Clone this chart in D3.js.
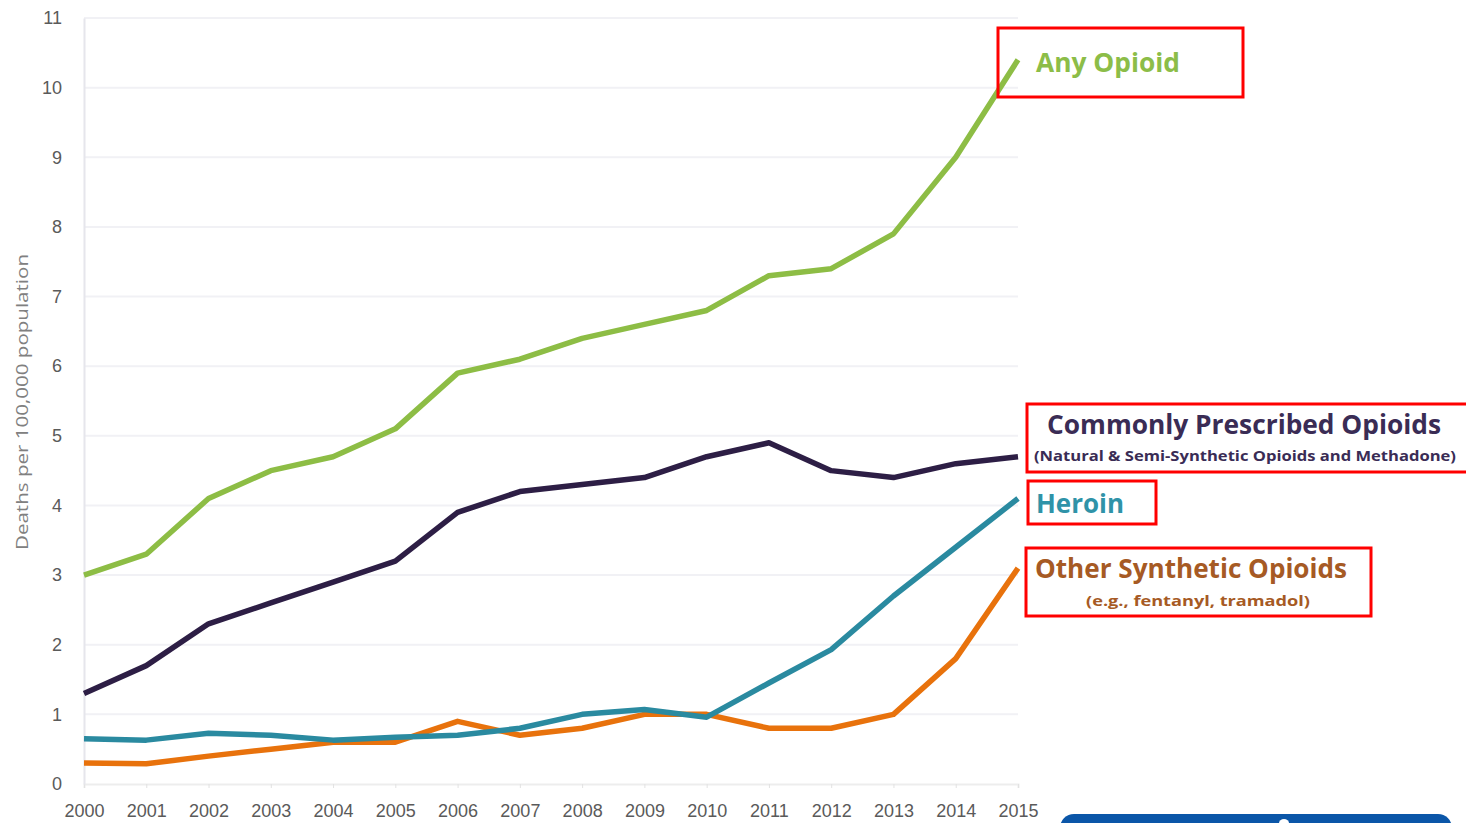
<!DOCTYPE html>
<html>
<head>
<meta charset="utf-8">
<script src="https://cdn.jsdelivr.net/npm/d3@7"></script>
<style>
  body { margin: 0; background: #fff; overflow: hidden; }
  svg { display: block; font-family: "Open Sans", "Liberation Sans", sans-serif; }
</style>
</head>
<body>
<div id="chart"></div>
<script>
const years = [2000, 2001, 2002, 2003, 2004, 2005, 2006, 2007, 2008, 2009, 2010, 2011, 2012, 2013, 2014, 2015];
const anyOpioid = [3.0, 3.3, 4.1, 4.5, 4.7, 5.1, 5.9, 6.1, 6.4, 6.6, 6.8, 7.3, 7.4, 7.9, 9.0, 10.4];
const prescribed = [1.3, 1.7, 2.3, 2.6, 2.9, 3.2, 3.9, 4.2, 4.3, 4.4, 4.7, 4.9, 4.5, 4.4, 4.6, 4.7];
const heroin = [0.65, 0.63, 0.73, 0.7, 0.63, 0.67, 0.7, 0.8, 1.0, 1.07, 0.96, 1.45, 1.93, 2.7, 3.4, 4.1];
const synthetic = [0.3, 0.29, 0.4, 0.5, 0.6, 0.6, 0.9, 0.7, 0.8, 1.0, 1.0, 0.8, 0.8, 1.0, 1.8, 3.1];
const yTicks = [0, 1, 2, 3, 4, 5, 6, 7, 8, 9, 10, 11];
const yTitle = "Deaths per 100,000 population";

const series = [
  { name: "synthetic", values: synthetic, color: "#e8720c" },
  { name: "heroin", values: heroin, color: "#2a8aa0" },
  { name: "prescribed", values: prescribed, color: "#2d1e45" },
  { name: "any", values: anyOpioid, color: "#8dbd45" },
];

const width = 1466;
const height = 823;
const margin = { top: 18, bottom: 39, left: 84, right: 448 };

const svg = d3
  .select("#chart")
  .append("svg")
  .attr("width", width)
  .attr("height", height);

const xScale = d3
  .scaleLinear()
  .domain([2000, 2015])
  .range([margin.left, width - margin.right]);

const yScale = d3
  .scaleLinear()
  .domain([0, 11])
  .range([height - margin.bottom, margin.top]);

// Grid

svg
  .append("g")
  .selectAll("line")
  .data(yTicks.slice(1))
  .enter()
  .append("line")
  .attr("x1", xScale(2000))
  .attr("x2", xScale(2015))
  .attr("y1", (d) => yScale(d))
  .attr("y2", (d) => yScale(d))
  .attr("stroke", "#f1f1f5")
  .attr("stroke-width", 2);

// Axis

const xAxis = svg
  .append("g")
  .attr("transform", `translate(0, ${yScale(0)})`)
  .call(d3.axisBottom(xScale).tickValues(years).tickFormat(d3.format("d")).tickSize(4));
xAxis.select(".domain").attr("stroke", "#ededed").attr("stroke-width", 2);
xAxis.selectAll(".tick line").attr("stroke", "#e2e2e2");
xAxis
  .selectAll("text")
  .attr("y", 20)
  .attr("fill", "#5a5a5a")
  .attr("font-size", "18px");

const yAxis = svg
  .append("g")
  .attr("transform", `translate(${margin.left}, 0)`)
  .call(d3.axisLeft(yScale).tickValues(yTicks).tickSize(0).tickPadding(22));
yAxis.select(".domain").attr("stroke", "#e6e6ec").attr("stroke-width", 2);
yAxis.selectAll("text").attr("fill", "#5a5a5a").attr("font-size", "18px");

svg
  .append("text")
  .attr("x", -402)
  .attr("y", 28)
  .attr("transform", "rotate(-90)")
  .attr("text-anchor", "middle")
  .attr("fill", "#808080")
  .attr("font-size", "17px")
  .attr("textLength", 296)
  .attr("lengthAdjust", "spacingAndGlyphs")
  .text(yTitle);

// Lines

const line = d3
  .line()
  .x((d, i) => xScale(years[i]))
  .y((d) => yScale(d));

svg
  .append("g")
  .selectAll("path")
  .data(series)
  .enter()
  .append("path")
  .attr("fill", "none")
  .attr("stroke", (d) => d.color)
  .attr("stroke-width", 5.5)
  .attr("stroke-linejoin", "round")
  .attr("d", (d) => line(d.values));

// Labels

const labels = [
  { text: "Any Opioid", x: 1036, y: 72, size: 27, len: 144, color: "#8cbd48" },
  { text: "Commonly Prescribed Opioids", x: 1047, y: 434, size: 26, len: 394, color: "#3a2c55" },
  { text: "(Natural & Semi-Synthetic Opioids and Methadone)", x: 1034, y: 461, size: 14, len: 422, color: "#3a2c55" },
  { text: "Heroin", x: 1036, y: 513, size: 27, len: 88, color: "#2f93a8" },
  { text: "Other Synthetic Opioids", x: 1035, y: 578, size: 26, len: 312, color: "#a65a24" },
  { text: "(e.g., fentanyl, tramadol)", x: 1086, y: 606, size: 15, len: 224, color: "#a65a24" },
];

svg
  .append("g")
  .selectAll("text")
  .data(labels)
  .enter()
  .append("text")
  .attr("x", (d) => d.x)
  .attr("y", (d) => d.y)
  .attr("fill", (d) => d.color)
  .attr("font-size", (d) => `${d.size}px`)
  .attr("font-weight", "bold")
  .attr("textLength", (d) => d.len)
  .attr("lengthAdjust", "spacingAndGlyphs")
  .text((d) => d.text);

const boxes = [
  { x: 998, y: 28, w: 245, h: 69 },
  { x: 1027, y: 404, w: 445, h: 68 },
  { x: 1028, y: 481, w: 128, h: 43 },
  { x: 1026, y: 548, w: 345, h: 68 },
];

svg
  .append("g")
  .selectAll("rect")
  .data(boxes)
  .enter()
  .append("rect")
  .attr("x", (d) => d.x)
  .attr("y", (d) => d.y)
  .attr("width", (d) => d.w)
  .attr("height", (d) => d.h)
  .attr("fill", "none")
  .attr("stroke", "#ff0000")
  .attr("stroke-width", 3);

// Cropped button at bottom right

svg
  .append("rect")
  .attr("x", 1060)
  .attr("y", 814)
  .attr("width", 392)
  .attr("height", 40)
  .attr("rx", 14)
  .attr("fill", "#0b56a8");

svg
  .append("ellipse")
  .attr("cx", 1284)
  .attr("cy", 823)
  .attr("rx", 5)
  .attr("ry", 4)
  .attr("fill", "#ffffff");
</script>
</body>
</html>
